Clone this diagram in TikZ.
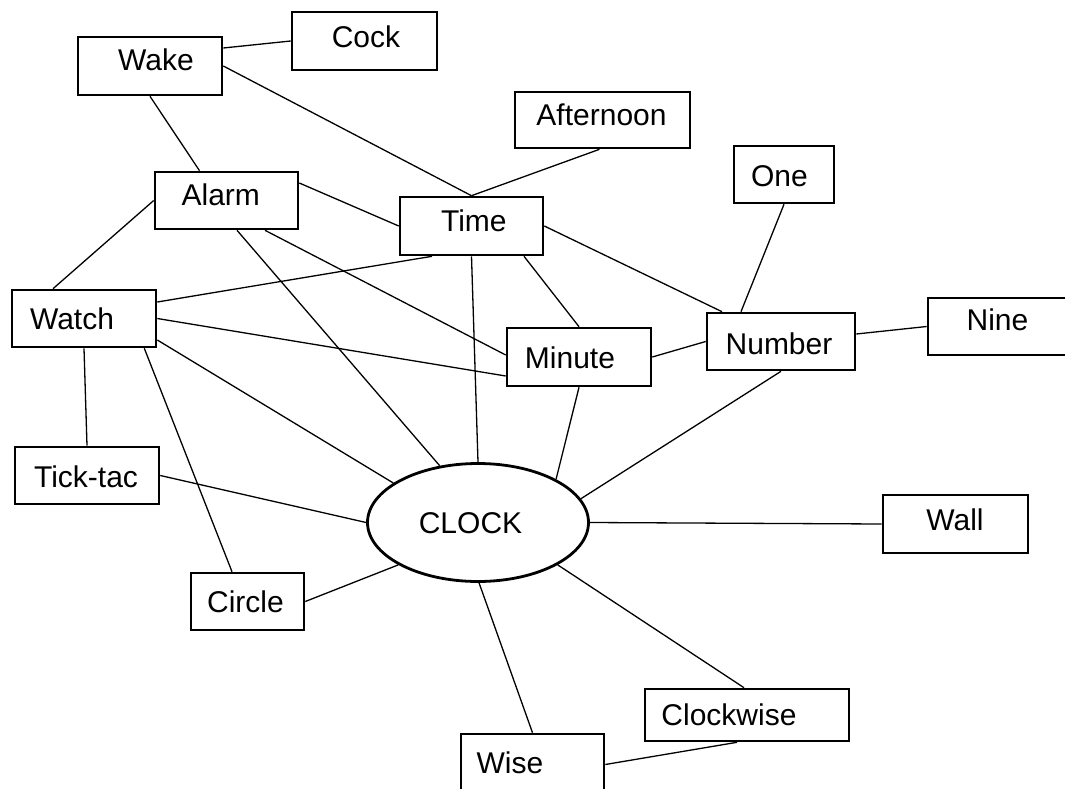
\documentclass[tikz,border=0pt]{standalone}
\usepackage{fontspec}
\setmainfont{Liberation Sans}
\usetikzlibrary{shapes.geometric}
\begin{document}
\begin{tikzpicture}[x=1pt,y=-1pt,
  word/.style={font=\fontsize{30}{36}\selectfont, text height=21.5pt, text depth=0pt, inner sep=0pt},
  box/.style={draw=black, line width=2.6pt, inner sep=0pt},
  hub/.style={ellipse, draw=black, line width=2.8pt, inner sep=0pt,
              minimum width=221pt, minimum height=118pt},
  link/.style={draw=black, line width=1.3pt}]
\useasboundingbox (0,0) rectangle (1065,789);

% concept boxes
\node[box, minimum width=144pt, minimum height=58pt,
  label={[word, xshift=6pt, yshift=6pt]center:Wake}] (wake) at (150,66) {};
\node[box, minimum width=145pt, minimum height=58pt,
  label={[word, xshift=1.5pt, yshift=4.3pt]center:Cock}] (cock) at (364.5,41) {};
\node[box, minimum width=143pt, minimum height=57pt,
  label={[word, xshift=-5.7pt, yshift=6pt]center:Alarm}] (alarm) at (226.5,200.5) {};
\node[box, minimum width=175pt, minimum height=56pt,
  label={[word, xshift=-1pt, yshift=5.5pt]center:Afternoon}] (afternoon) at (602.5,120) {};
\node[box, minimum width=100pt, minimum height=57pt,
  label={[word, xshift=-4.5pt, yshift=-1.5pt]center:One}] (one) at (784,174.5) {};
\node[box, minimum width=143pt, minimum height=58pt,
  label={[word, xshift=2.3pt, yshift=5pt]center:Time}] (time) at (471.5,226) {};
\node[box, minimum width=144pt, minimum height=57pt,
  label={[word, xshift=-12pt, yshift=-0.5pt]center:Watch}] (watch) at (84,318.5) {};
\node[box, minimum width=144pt, minimum height=58pt,
  label={[word, xshift=-9pt, yshift=-0.5pt]center:Minute}] (minute) at (579,357) {};
\node[box, minimum width=148pt, minimum height=57pt,
  label={[word, xshift=-2pt, yshift=-2pt]center:Number}] (number) at (781,341.5) {};
\node[box, minimum width=152pt, minimum height=57pt,
  label={[word, xshift=-6.5pt, yshift=7pt]center:Nine}] (nine) at (1004,326.5) {};
\node[box, minimum width=144pt, minimum height=57pt,
  label={[word, xshift=-1pt, yshift=-1pt]center:Tick-tac}] (ticktac) at (87,475.5) {};
\node[box, minimum width=113pt, minimum height=57pt,
  label={[word, xshift=-2pt]center:Circle}] (circle) at (247.5,601.5) {};
\node[box, minimum width=145pt, minimum height=58pt,
  label={[word, xshift=-0.5pt, yshift=4pt]center:Wall}] (wall) at (955.5,524) {};
\node[box, minimum width=204pt, minimum height=52pt,
  label={[word, xshift=-18pt]center:Clockwise}] (clockwise) at (747,715) {};
\node[box, minimum width=143pt, minimum height=61pt,
  label={[word, xshift=-22.5pt, yshift=1.5pt]center:Wise}] (wise) at (532.5,764.5) {};

% central concept
\node[hub, label={[word, xshift=-7.5pt, yshift=-0.5pt]center:CLOCK}] (clock) at (478,522.5) {};

% associations
\draw[link] ([yshift=18pt]wake.east) -- (cock.west);
\draw[link] (wake.east) -- (time.north);
\draw[link] (wake.south) -- ([xshift=-27pt]alarm.north);
\draw[link] ([yshift=17.5pt]alarm.east) -- (time.west);
\draw[link] (alarm.west) -- ([xshift=-31pt]watch.north);
\draw[link] ([xshift=38.5pt]alarm.south) -- ([yshift=2pt]minute.west);
\draw[link] ([xshift=10.5pt]alarm.south) -- (clock.124);
\draw[link] ([xshift=-3pt]afternoon.south) -- (time.north);
\draw[link] (time.east) -- ([xshift=-59pt]number.north);
\draw[link] (one.south) -- ([xshift=-40pt]number.north);
\draw[link] ([xshift=52.5pt]time.south) -- (minute.north);
\draw[link] (time.south) -- (clock.north);
\draw[link] ([yshift=16.5pt]watch.east) -- ([xshift=-39.5pt]time.south);
\draw[link] (watch.east) -- ([yshift=-19pt]minute.west);
\draw[link] ([yshift=-21.5pt]watch.east) -- (clock.155.6);
\draw[link] ([xshift=-13pt]watch.south east) -- ([xshift=-15.5pt]circle.north);
\draw[link] (watch.south) -- (ticktac.north);
\draw[link] (ticktac.east) -- (clock.west);
\draw[link] (circle.east) -- (clock.208.6);
\draw[link] (minute.east) -- (number.west);
\draw[link] ([yshift=7.5pt]number.east) -- (nine.west);
\draw[link] (number.south) -- (clock.13);
\draw[link] (minute.south) -- (clock.29);
\draw[link] (clock.east) -- (wall.west);
\draw[link] (clock.-28.4) -- ([xshift=-3pt]clockwise.north);
\draw[link] (clock.-89) -- (wise.north);
\draw[link] (wise.east) -- ([xshift=-10pt]clockwise.south);
\end{tikzpicture}
\end{document}
